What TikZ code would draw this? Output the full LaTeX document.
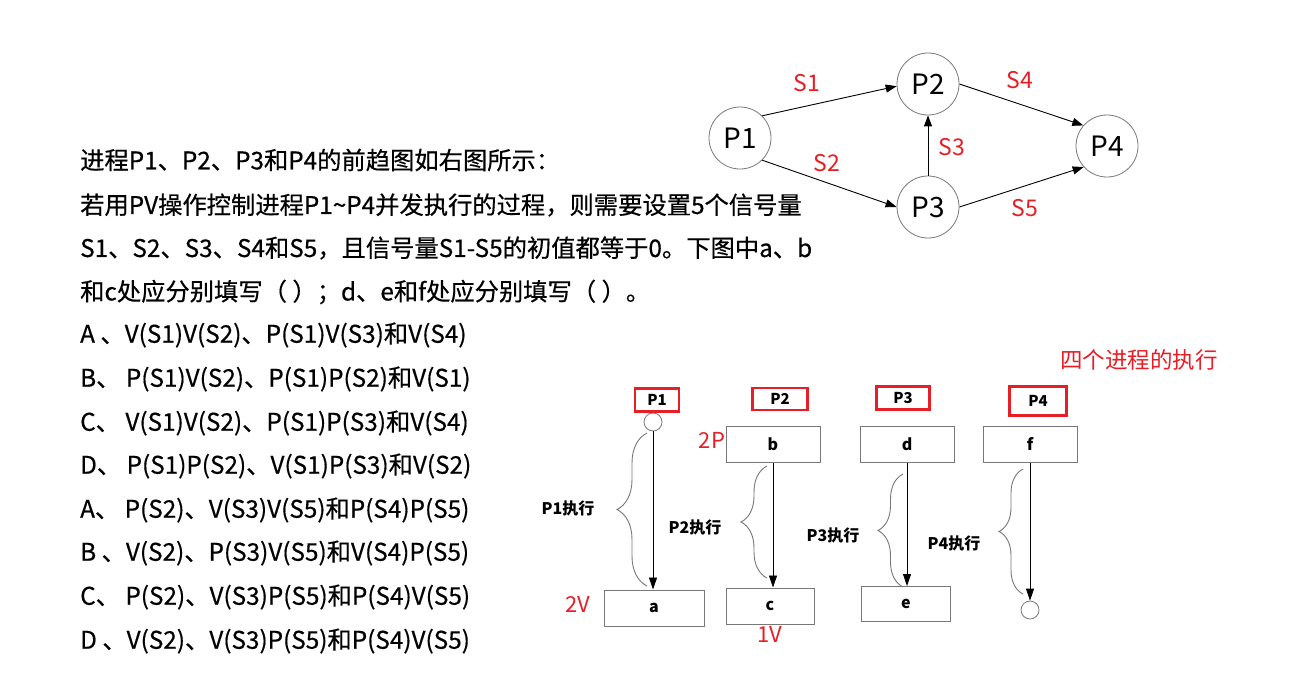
\documentclass[tikz,border=0pt]{standalone}
\usepackage{fontspec}
\setmainfont{Noto Sans CJK SC}
\newfontfamily\medf{Noto Sans CJK SC}[FakeBold=0.5]
\usetikzlibrary{arrows.meta,decorations.pathreplacing}
\definecolor{myred}{RGB}{232,30,38}
\definecolor{mygray}{RGB}{120,120,120}
\begin{document}
\begin{tikzpicture}[x=1pt,y=-1pt,
  txt/.style={anchor=west,inner sep=0pt,font=\medf\fontsize{24.3}{28}\selectfont},
  gc/.style={circle,draw=mygray,line width=0.8pt,minimum size=62pt,inner sep=0pt,font=\fontsize{28}{32}\selectfont},
  garr/.style={line width=0.9pt,-{Triangle[length=11pt,width=8pt]}},
  slab/.style={text=myred,inner sep=0pt,font=\fontsize{23}{26}\selectfont},
  rbox/.style={draw=myred,line width=2.6pt,inner sep=0pt,font=\bfseries\fontsize{15}{18}\selectfont},
  wbox/.style={draw=mygray,line width=1pt,inner sep=0pt,font=\bfseries\fontsize{16}{18}\selectfont},
  sc/.style={circle,draw=mygray,line width=0.8pt,minimum size=18pt,inner sep=0pt},
  varr/.style={line width=0.8pt,-{Triangle[length=12pt,width=8pt]}},
  brc/.style={draw=mygray,line width=0.9pt,decorate,decoration={brace,amplitude=#1}},
  elab/.style={inner sep=0pt,font=\bfseries\fontsize{16}{18}\selectfont},
  rlab/.style={text=myred,inner sep=0pt,font=\fontsize{22}{25}\selectfont}]
\useasboundingbox (0,0) rectangle (1289,686);
\fill[white] (0,0) rectangle (1289,686);

% question text
\node[txt] (t1) at (80,160) {进程P1、P2、P3和P4的前趋图如右图所示：};
\node[txt] (t2) at (80,205) {若用PV操作控制进程P1\textasciitilde P4并发执行的过程，则需要设置5个信号量};
\node[txt] (t3) at (80,248) {S1、S2、S3、S4和S5，且信号量S1-S5的初值都等于0。下图中a、b};
\node[txt] (t4) at (80,292) {和c处应分别填写（ ）；d、e和f处应分别填写（ ）。};
\node[txt] (o1) at (80,335) {A 、V(S1)V(S2)、P(S1)V(S3)和V(S4)};
\node[txt] (o2) at (80,379) {B、 P(S1)V(S2)、P(S1)P(S2)和V(S1)};
\node[txt] (o3) at (80,423) {C、 V(S1)V(S2)、P(S1)P(S3)和V(S4)};
\node[txt] (o4) at (80,466) {D、 P(S1)P(S2)、V(S1)P(S3)和V(S2)};
\node[txt] (o5) at (80,510) {A、 P(S2)、V(S3)V(S5)和P(S4)P(S5)};
\node[txt] (o6) at (80,553) {B 、V(S2)、P(S3)V(S5)和V(S4)P(S5)};
\node[txt] (o7) at (80,597) {C、 P(S2)、V(S3)P(S5)和P(S4)V(S5)};
\node[txt] (o8) at (80,641) {D 、V(S2)、V(S3)P(S5)和P(S4)V(S5)};

% precedence graph
\node[gc] (g1) at (740,138) {P1};
\node[gc] (g2) at (928,84) {P2};
\node[gc] (g3) at (928,207) {P3};
\node[gc] (g4) at (1107,146) {P4};
\draw[garr] (g1.45) -- (g2.184);
\draw[garr] (g1.-45) -- (g3.180);
\draw[garr] (g3.north) -- (g2.south);
\draw[garr] (g2.east) -- (g4.139);
\draw[garr] (g3.east) -- (g4.222);
\node[slab] (s1) at (807,83) {S1};
\node[slab] (s2) at (827,163) {S2};
\node[slab] (s3) at (952,147) {S3};
\node[slab] (s4) at (1020,80) {S4};
\node[slab] (s5) at (1025,208) {S5};

% execution diagram
\node[rlab,font=\fontsize{22.5}{26}\selectfont] (title) at (1139,360) {四个进程的执行};
\node[rbox,minimum width=44pt,minimum height=23pt] (h1) at (657,400) {P1};
\node[rbox,minimum width=55pt,minimum height=22pt] (h2) at (780,399) {P2};
\node[rbox,minimum width=53pt,minimum height=23pt] (h3) at (903,398) {P3};
\node[rbox,minimum width=57pt,minimum height=29pt] (h4) at (1038,401) {P4};

\node[sc] (c1) at (653,422) {};
\node[wbox,minimum width=100pt,minimum height=36pt] (a) at (654,608) {a};
\node[wbox,minimum width=94pt,minimum height=36pt] (b) at (773,444) {b};
\node[wbox,minimum width=88pt,minimum height=36pt] (c) at (770,606) {c};
\node[wbox,minimum width=94pt,minimum height=36pt] (d) at (907,444) {d};
\node[wbox,minimum width=89pt,minimum height=35pt] (e) at (906,604) {e};
\node[wbox,minimum width=94pt,minimum height=36pt] (f) at (1030,444) {f};
\node[sc] (c4) at (1030,610) {};

\draw[varr] (c1.south) -- (c1.south |- a.north);
\draw[varr] (b.south) -- (b.south |- c.north);
\draw[varr] (d.south) -- (d.south |- e.north);
\draw[varr] (f.south) -- (c4.north);

\coordinate (b1t) at (647,433); \coordinate (b1b) at (647,586);
\coordinate (b2t) at (767,466); \coordinate (b2b) at (767,578);
\coordinate (b3t) at (903,474); \coordinate (b3b) at (903,587);
\coordinate (b4t) at (1023,469); \coordinate (b4b) at (1023,594);
\draw[brc=30pt] (b1b) -- (b1t);
\draw[brc=26pt] (b2b) -- (b2t);
\draw[brc=25pt] (b3b) -- (b3t);
\draw[brc=24pt] (b4b) -- (b4t);

\node[elab] (l1) at (568,508) {P1执行};
\node[elab] (l2) at (695,527) {P2执行};
\node[elab] (l3) at (833,535) {P3执行};
\node[elab] (l4) at (954,543) {P4执行};

\node[rlab] (r2p) at (712,440) {2P};
\node[rlab] (r1v) at (770,634) {1V};
\node[rlab] (r2v) at (578,604) {2V};
\end{tikzpicture}
\end{document}
